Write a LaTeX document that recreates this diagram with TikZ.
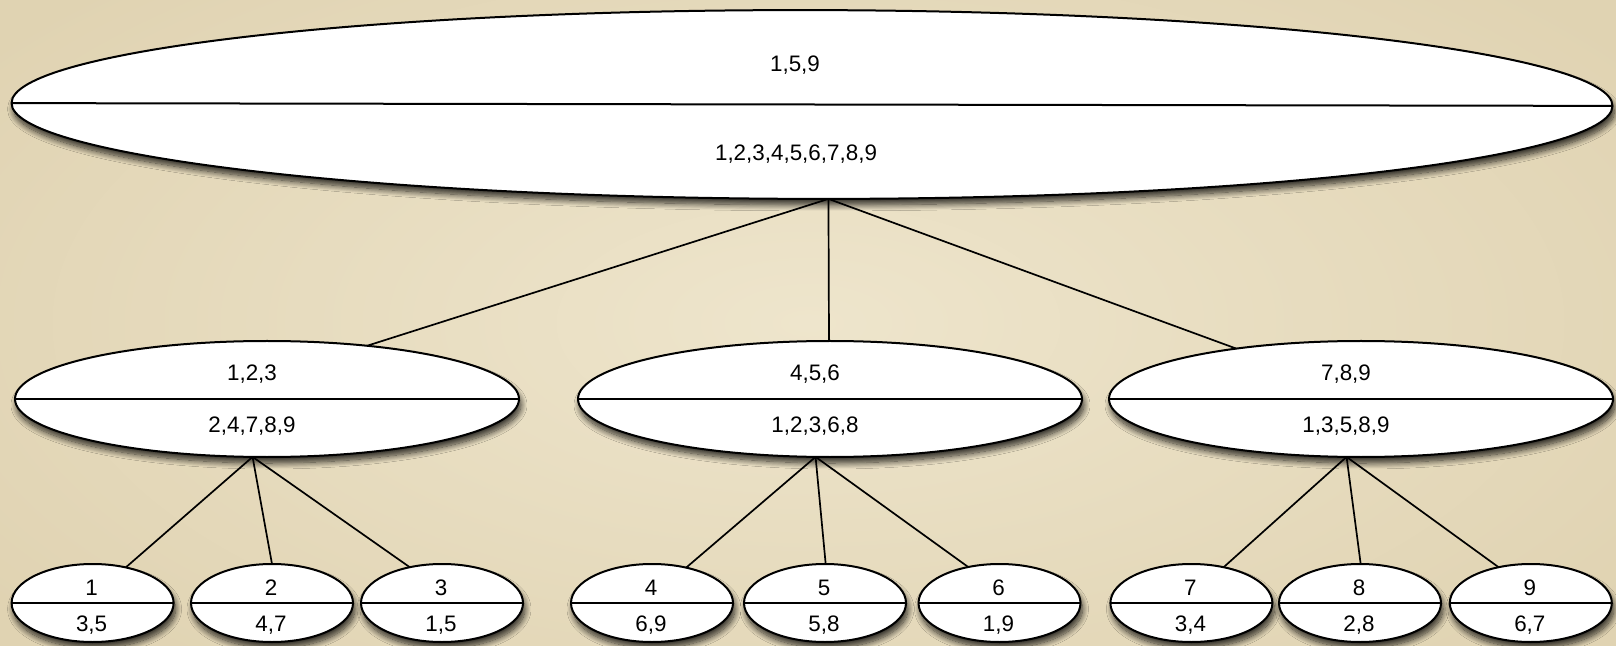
\documentclass[tikz,border=0pt]{standalone}
\usepackage{fontspec}
\setmainfont{Liberation Sans}
\usetikzlibrary{shapes.geometric,shadows.blur,calc}
\definecolor{bginner}{HTML}{EEE5CC}
\definecolor{bgouter}{HTML}{E0D3B2}
\begin{document}
\begin{tikzpicture}[x=0.5pt,y=-0.5pt,
  ell/.style={ellipse, draw=black, line width=1pt, fill=white, inner sep=0pt, outer sep=0pt,
    blur shadow={shadow xshift=1pt, shadow yshift=-3pt, shadow blur radius=3pt, shadow blur steps=12, shadow opacity=80}},
  topell/.style={ell, minimum width=800.5pt, minimum height=94.4pt, rotate=-0.1},
  midell/.style={ell, minimum width=252pt, minimum height=58pt},
  leafell/.style={ell, minimum width=81pt, minimum height=39pt},
  lbl/.style={font=\fontsize{11.2}{13}\selectfont, inner sep=0pt, text height=8pt, text depth=0pt},
  conn/.style={line width=0.85pt, black},
  divl/.style={line width=1pt, black}]
\useasboundingbox (0,0) rectangle (1616,646);
\shade[inner color=bginner, outer color=bgouter] (-200,-150) rectangle (1816,796);

% ellipses
\node[topell] (top) at (812,104.5) {};
\node[midell] (m1) at (267,399) {};
\node[midell] (m2) at (830,399) {};
\node[midell] (m3) at (1361,399) {};
\node[leafell] (l1) at (92.6,603) {};
\node[leafell] (l2) at (272,603) {};
\node[leafell] (l3) at (442,603) {};
\node[leafell] (l4) at (652,603) {};
\node[leafell] (l5) at (825,603) {};
\node[leafell] (l6) at (999.5,603) {};
\node[leafell] (l7) at (1191.4,603) {};
\node[leafell] (l8) at (1360,603) {};
\node[leafell] (l9) at (1530.8,603) {};

% dividers
\foreach \n in {top,m1,m2,m3,l1,l2,l3,l4,l5,l6,l7,l8,l9}
  \draw[divl] (\n.west) -- (\n.east);

% labels
\node[lbl] (topa) at (795,64) {1,5,9};
\node[lbl] (topb) at (796,152.5) {1,2,3,4,5,6,7,8,9};
\node[lbl] (m1a) at ($(m1)+(-15,-27)$) {1,2,3};
\node[lbl] (m1b) at ($(m1)+(-15,25)$) {2,4,7,8,9};
\node[lbl] (m2a) at ($(m2)+(-15,-27)$) {4,5,6};
\node[lbl] (m2b) at ($(m2)+(-15,25)$) {1,2,3,6,8};
\node[lbl] (m3a) at ($(m3)+(-15,-27)$) {7,8,9};
\node[lbl] (m3b) at ($(m3)+(-15,25)$) {1,3,5,8,9};
\foreach \n/\a/\b in {l1/1/{3,5},l2/2/{4,7},l3/3/{1,5},l4/4/{6,9},l5/5/{5,8},l6/6/{1,9},l7/7/{3,4},l8/8/{2,8},l9/9/{6,7}}{
  \node[lbl] (\n a) at ($(\n)+(-1,-16)$) {\a};
  \node[lbl] (\n b) at ($(\n)+(-1,20)$) {\b};
}

% connectors
\draw[conn] (top.-80.6) -- (m1.28.6);
\draw[conn] (top.-80.6) -- (m2.91);
\draw[conn] (top.-80.6) -- (m3.158.5);
\draw[conn] (m1.-104) -- (l1.47);
\draw[conn] (m1.-104) -- (l2.90);
\draw[conn] (m1.-104) -- (l3.132);
\draw[conn] (m2.-104) -- (l4.46);
\draw[conn] (m2.-104) -- (l5.89);
\draw[conn] (m2.-104) -- (l6.131);
\draw[conn] (m3.-104) -- (l7.48);
\draw[conn] (m3.-104) -- (l8.89);
\draw[conn] (m3.-104) -- (l9.132);
\end{tikzpicture}
\end{document}
